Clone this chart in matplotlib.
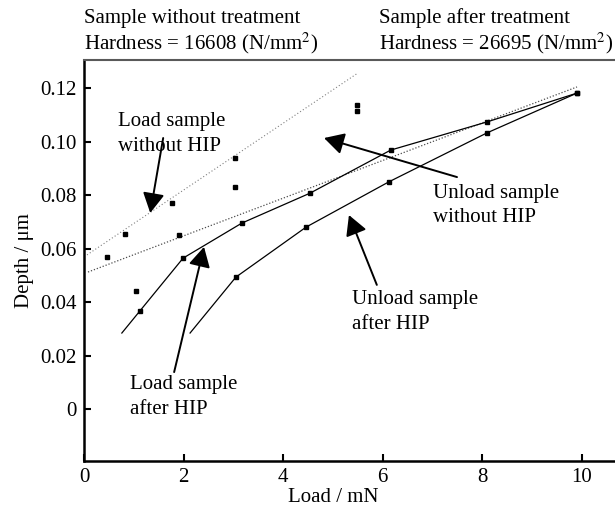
import numpy as np
import matplotlib as mpl
mpl.use('Agg')
import matplotlib.pyplot as plt

mpl.rcParams['font.family'] = 'Liberation Serif'
mpl.rcParams['mathtext.fontset'] = 'stix'
mpl.rcParams['font.size'] = 15

# scattered points (load, sample without HIP)
pts_x = [0.46, 0.82, 1.04, 1.77, 1.91, 3.03, 3.03, 5.48, 5.48]
pts_y = [0.0568, 0.0654, 0.0441, 0.0770, 0.0650, 0.0938, 0.0830, 0.1136, 0.1114]

# dotted fit lines
fit1_x = [0.06, 5.50]
fit1_y = [0.0576, 0.1256]
fit2_x = [0.08, 9.90]
fit2_y = [0.0512, 0.1204]

# solid curves
l1_x = [0.76, 1.12, 1.99, 3.17, 4.54, 6.16, 8.09, 9.90]
l1_y = [0.0284, 0.0366, 0.0564, 0.0695, 0.0807, 0.0968, 0.1073, 0.1181]
l2_x = [2.13, 3.05, 4.46, 6.12, 8.09, 9.90]
l2_y = [0.0284, 0.0493, 0.0680, 0.0849, 0.1032, 0.1181]

yticks = [0, 0.02, 0.04, 0.06, 0.08, 0.10, 0.12]
ylabels = ['0', '0.02', '0.04', '0.06', '0.08', '0.10', '0.12']
xticks = [0, 2, 4, 6, 8, 10]

fig = plt.figure(figsize=(6.15, 5.08), dpi=100)
ax = fig.add_axes([84/615, 1-461/508, 1-84/615, (461-60)/508])

ax.plot(fit1_x, fit1_y, ls=(0, (1, 2)), color='0.5', lw=0.8)
ax.plot(fit2_x, fit2_y, ls=(0, (1, 1.5)), color='0.3', lw=0.9)
ax.plot(pts_x, pts_y, ls='none', marker='s', ms=2.8, color='k')
ax.plot(l1_x, l1_y, color='k', lw=0.9, marker='s', ms=2.8, markevery=list(range(1, len(l1_x))))
ax.plot(l2_x, l2_y, color='k', lw=0.9, marker='s', ms=2.8, markevery=list(range(1, len(l2_x))))

arr = dict(arrowstyle='-|>,head_length=0.55,head_width=0.3', color='k', lw=1.4,
           mutation_scale=22, shrinkA=0, shrinkB=0)
ax.annotate('', xy=(1.33, 0.0733), xytext=(1.59, 0.1013), arrowprops=arr)
ax.annotate('', xy=(4.82, 0.1013), xytext=(7.49, 0.0867), arrowprops=arr)
ax.annotate('', xy=(5.32, 0.0725), xytext=(5.88, 0.0464), arrowprops=arr)
ax.annotate('', xy=(2.41, 0.0606), xytext=(1.81, 0.0138), arrowprops=arr)

ax.text(0.68, 0.1028, 'Load sample\nwithout HIP', va='center', ha='left', linespacing=1.4)
ax.text(7.01, 0.0761, 'Unload sample\nwithout HIP', va='center', ha='left', linespacing=1.4)
ax.text(5.38, 0.0363, 'Unload sample\nafter HIP', va='center', ha='left', linespacing=1.4)
ax.text(0.92, 0.0045, 'Load sample\nafter HIP', va='center', ha='left', linespacing=1.4)

fig.text(84/615, 1-18/508, 'Sample without treatment', va='center', ha='left')
fig.text(84/615, 1-43/508, 'Hardness = 16608 (N/mm$^2$)', va='center', ha='left')
fig.text(379/615, 1-18/508, 'Sample after treatment', va='center', ha='left')
fig.text(379/615, 1-43/508, 'Hardness = 26695 (N/mm$^2$)', va='center', ha='left')

ax.set_xlim(0, (615-84)/49.8)
ax.set_ylim(-(461-409)/2675, (409-60)/2675)
ax.set_xticks(xticks)
ax.set_yticks(yticks)
ax.set_yticklabels(ylabels)
ax.tick_params(direction='in', length=5, width=1.5, pad=5)
ax.spines['right'].set_visible(False)
ax.spines['top'].set_color('0.35')
ax.spines['top'].set_linewidth(1.5)
ax.spines['left'].set_linewidth(1.8)
ax.spines['bottom'].set_linewidth(1.8)
ax.set_xlabel('Load / mN')
ax.xaxis.set_label_coords((333-84)/(615-84), -(498-461)/(461-60), transform=ax.transAxes)
ax.xaxis.label.set_va('center')
ax.set_ylabel('Depth / μm', labelpad=5)

plt.savefig('out.png', dpi=100)
